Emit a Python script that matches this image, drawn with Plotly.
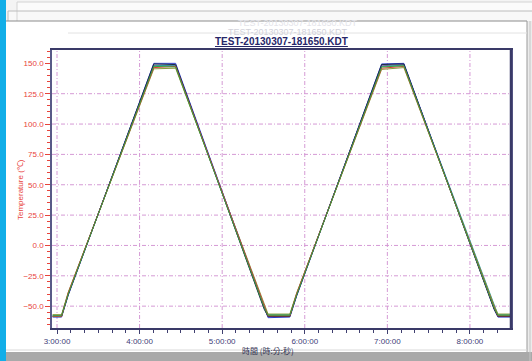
import plotly.graph_objects as go

# ---------------- data ----------------
DAY = "2013-03-07 "
time_labels = ["02:56:50", "03:03:20", "03:08:10", "04:10:20", "04:26:10", "05:30:30",
               "05:33:20", "05:49:10", "05:54:10", "06:55:50", "07:12:00", "08:17:30",
               "08:20:20", "08:29:50"]
times = [DAY + t for t in time_labels]

ch_green  = [-58.0, -58.0, -40.0, 147.5, 147.0, -51.0, -57.5, -57.5, -40.5, 147.0, 148.0, -51.0, -57.5, -57.5]
ch_red    = [-58.5, -58.5, -39.0, 146.5, 147.5, -50.0, -58.0, -58.0, -39.5, 146.0, 147.5, -50.5, -58.0, -58.0]
ch_blue   = [-59.0, -59.0, -41.0, 150.0, 150.0, -52.0, -59.5, -59.0, -41.5, 149.5, 150.0, -52.0, -59.0, -59.0]
ch_navy   = [-58.5, -58.5, -40.5, 149.5, 149.0, -52.5, -58.5, -58.5, -41.0, 149.0, 149.5, -52.5, -58.5, -58.5]
ch_teal   = [-57.5, -57.5, -39.5, 148.0, 148.5, -50.5, -57.0, -57.0, -40.0, 147.5, 148.5, -50.0, -57.0, -57.0]
ch_purple = [-58.0, -58.0, -40.0, 148.5, 148.0, -51.5, -58.0, -58.0, -40.0, 148.0, 149.0, -51.5, -58.0, -58.0]
ch_olive  = [-57.0, -57.0, -38.5, 145.5, 146.0, -49.5, -56.5, -56.5, -39.0, 145.0, 146.5, -49.5, -56.5, -56.5]

series = [
    ("CH1", ch_purple, "#8a4aa8"),
    ("CH2", ch_teal, "#2a9a9a"),
    ("CH3", ch_olive, "#8a9a3a"),
    ("CH4", ch_blue, "#2a3ac8"),
    ("CH5", ch_navy, "#1e2a48"),
    ("CH6", ch_red, "#d83a3a"),
    ("CH7", ch_green, "#3aa03a"),
]

y_tick_vals = [-50, -25, 0, 25, 50, 75, 100, 125, 150]
y_grid_vals = [-50, -25, 0, 25, 50, 75, 100, 125]
x_tick_vals = [DAY + "03:00:00", DAY + "04:00:00", DAY + "05:00:00",
               DAY + "06:00:00", DAY + "07:00:00", DAY + "08:00:00"]

title_text = "TEST-20130307-181650.KDT"
x_title = "時間 (時:分:秒)"
y_title = "Temperature (℃)"

# ---------------- layout geometry (pixels) ----------------
W, H = 532, 361
L, R, T, B = 52, 511, 50, 328

def px(x):
    return (x - L) / (R - L)

def py(y):
    return (B - y) / (B - T)

fig = go.Figure()
for name, vals, col in series:
    fig.add_trace(go.Scatter(x=times, y=vals, mode="lines", name=name,
                             line=dict(color=col, width=1)))

shapes = []

def rect(x0, y0, x1, y1, fill, layer="below"):
    shapes.append(dict(type="rect", xref="paper", yref="paper",
                       x0=px(x0), x1=px(x1), y0=py(y1), y1=py(y0),
                       fillcolor=fill, line=dict(width=0), layer=layer))

def hline(x0, x1, y, col, w=1):
    shapes.append(dict(type="line", xref="paper", yref="paper", x0=px(x0), x1=px(x1),
                       y0=py(y), y1=py(y), line=dict(color=col, width=w), layer="below"))

def vline(x, y0, y1, col, w=1):
    shapes.append(dict(type="line", xref="paper", yref="paper", x0=px(x), x1=px(x),
                       y0=py(y0), y1=py(y1), line=dict(color=col, width=w), layer="below"))

rect(0, 0, 532, 361, "#f4f4f4")
rect(17, 2, 532, 361, "#fbfbfb")
rect(8, 11, 532, 361, "#f8f8f8")
rect(6, 21, 527, 352, "#ffffff")
rect(527, 21, 532, 361, "#ececec")
rect(0, 352, 532, 361, "#a9a9a9")
rect(0, 0, 6, 361, "#12aee8")
hline(17, 532, 2, "#d4d4d4")
vline(17, 2, 21, "#d4d4d4")
hline(8, 532, 11, "#bcbcbc")
vline(8, 11, 21, "#bcbcbc")
hline(6, 527, 21, "#8c8c8c")
vline(527, 21, 352, "#9a9a9a")
vline(530, 21, 361, "#c4c4c4")
hline(68, 527, 33, "#e2e2e2")
hline(6, 527, 350, "#d8d8d8")

GRID = "#d59ad5"
GRID_DASH = "4px,2px,1px,2px"
for g in y_grid_vals:
    shapes.append(dict(type="line", xref="paper", yref="y", x0=0, x1=1, y0=g, y1=g,
                       line=dict(color=GRID, width=1, dash=GRID_DASH), layer="below"))
for xv in x_tick_vals:
    shapes.append(dict(type="line", xref="x", yref="paper", x0=xv, x1=xv, y0=0, y1=1,
                       line=dict(color=GRID, width=1, dash=GRID_DASH), layer="below"))
vline(R, T, B, "#3a3a68", 2.5)
shapes[-1]["layer"] = "above"

def ann(text, x, y, font, **kw):
    d = dict(text=text, x=px(x), y=py(y), xref="paper", yref="paper", showarrow=False,
             xanchor="center", yanchor="middle", font=font)
    d.update(kw)
    return d

annotations = [
    ann(title_text, 298, 23.5, dict(family="Arial, Liberation Sans", size=9, color="#e4e4ea")),
    ann(title_text, 288, 32, dict(family="Arial, Liberation Sans", size=9, color="#d2d2da")),
    ann("<b><u>" + title_text + "</u></b>", 281, 41.5,
        dict(family="Arial, Liberation Sans", size=10, color="#262668")),
    ann(x_title, 268, 350, dict(family="Noto Sans CJK TC, Arial", size=8, color="#303050")),
    ann(y_title, 20, 190, dict(family="Arial, Liberation Sans", size=8, color="#e8443c"),
        textangle=-90),
]

fig.update_layout(
    width=W, height=H,
    margin=dict(l=L, r=W - R, t=T, b=H - B, pad=0),
    paper_bgcolor="#ffffff", plot_bgcolor="rgba(0,0,0,0)",
    showlegend=False,
    shapes=shapes, annotations=annotations,
    font=dict(family="Arial, Liberation Sans", size=8),
)

fig.update_xaxes(
    type="date", range=[DAY + "02:56:22", DAY + "08:29:50"],
    tickvals=x_tick_vals, tickformat="%-H:%M:%S",
    tickfont=dict(size=8, color="#404078"),
    ticks="outside", ticklen=4, tickcolor="#404070",
    minor=dict(dtick=600000, ticks="outside", ticklen=3, tickcolor="#404070", showgrid=False),
    showgrid=False,
    showline=True, linecolor="#3a3a68", linewidth=2, mirror=True,
    zeroline=False,
)
fig.update_yaxes(
    range=[-68, 161], tickvals=y_tick_vals, tickformat=".1f",
    tickfont=dict(size=8, color="#e8443c"),
    ticks="outside", ticklen=5, tickcolor="#e8443c",
    minor=dict(dtick=5, ticks="outside", ticklen=3, tickcolor="#e8443c", showgrid=False),
    showgrid=False,
    showline=True, linecolor="#5a5a88", linewidth=1.5, mirror=True,
    zeroline=False,
)

fig.write_html("out.html")
